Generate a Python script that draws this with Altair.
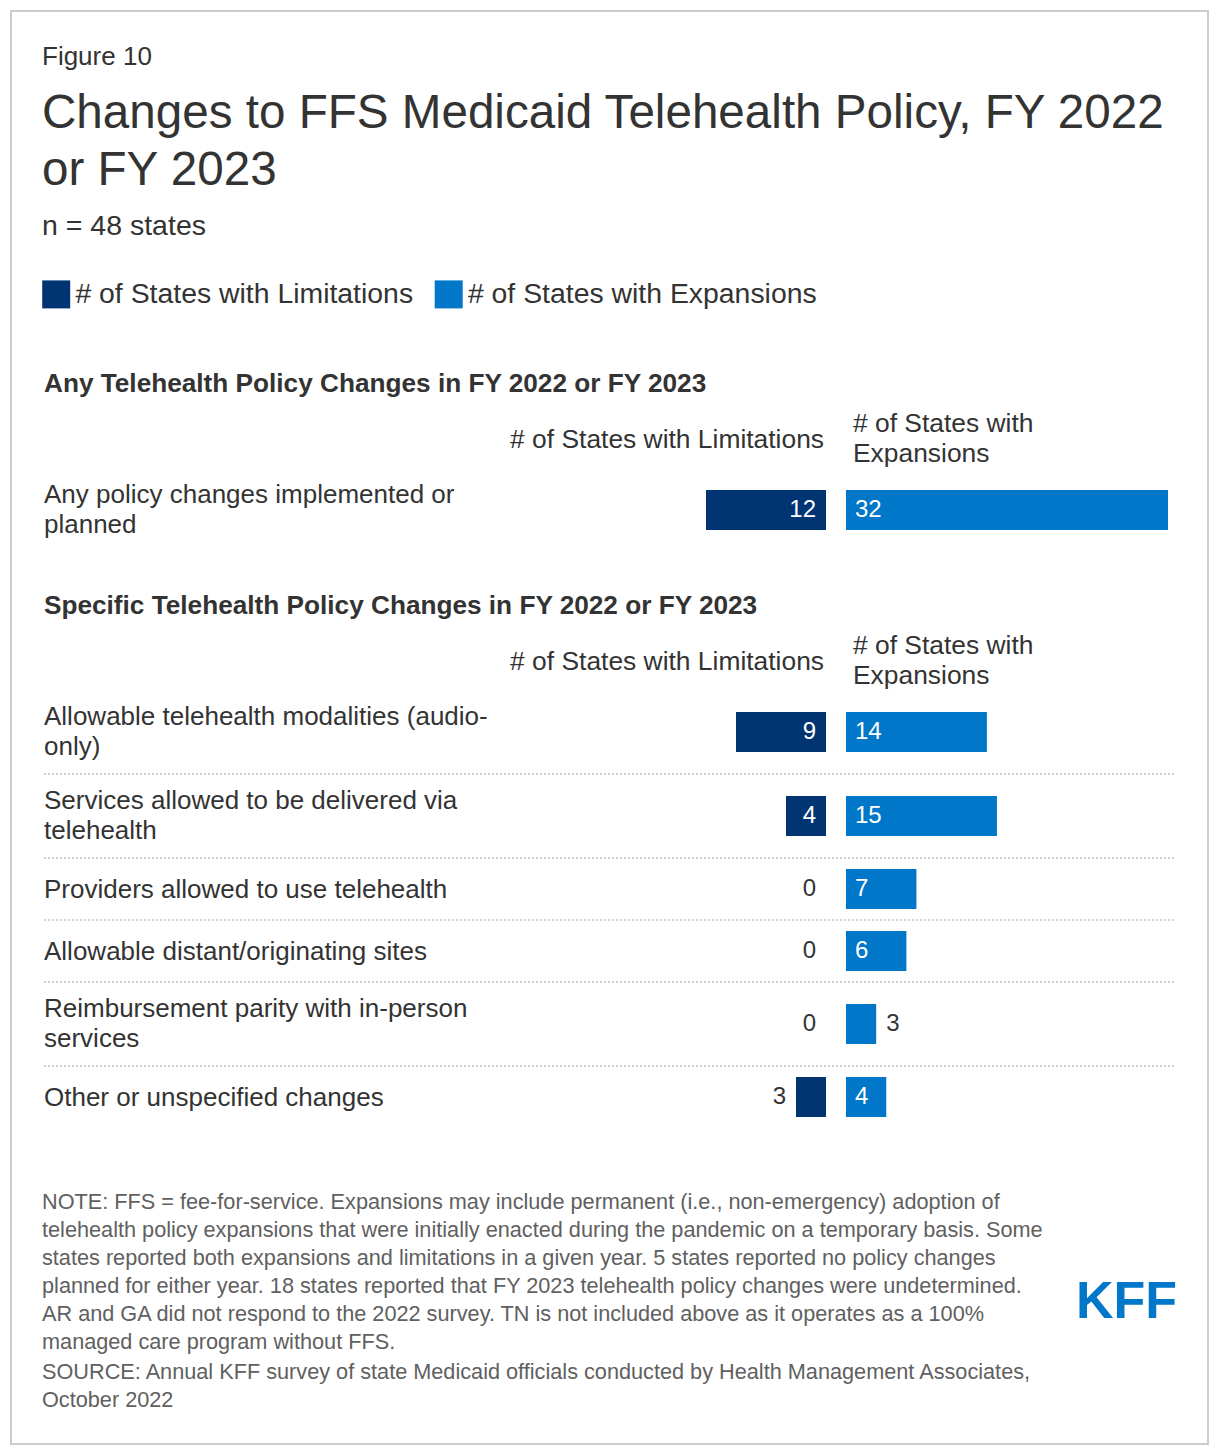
import altair as alt
import pandas as pd

# ---------------- data ----------------
TOP_CATEGORIES = ["Any policy changes implemented or\nplanned"]
TOP_LIMITATIONS = [12]
TOP_EXPANSIONS = [32]

CATEGORIES = [
    "Allowable telehealth modalities (audio-\nonly)",
    "Services allowed to be delivered via\ntelehealth",
    "Providers allowed to use telehealth",
    "Allowable distant/originating sites",
    "Reimbursement parity with in-person\nservices",
    "Other or unspecified changes",
]
LIMITATIONS = [9, 4, 0, 0, 0, 3]
EXPANSIONS = [14, 15, 7, 6, 3, 4]

SERIES = ["# of States with Limitations", "# of States with Expansions"]
COLORS = ["#003473", "#0077c8"]

NOTE_LINES = [
    "NOTE: FFS = fee-for-service. Expansions may include permanent (i.e., non-emergency) adoption of",
    "telehealth policy expansions that were initially enacted during the pandemic on a temporary basis. Some",
    "states reported both expansions and limitations in a given year. 5 states reported no policy changes",
    "planned for either year. 18 states reported that FY 2023 telehealth policy changes were undetermined.",
    "AR and GA did not respond to the 2022 survey. TN is not included above as it operates as a 100%",
    "managed care program without FFS.",
]
SOURCE_LINES = [
    "SOURCE: Annual KFF survey of state Medicaid officials conducted by Health Management Associates,",
    "October 2022",
]

FONT = "Liberation Sans, Arial, sans-serif"
TXT = "#333333"
NOTE_C = "#606060"
MIN_INSIDE = 4  # values below this get their label outside the bar
LABEL_SIZE = 26
LINE_H = 30

# ---------------- layout ----------------
OFF = 11  # page offset of the view origin (8px margin + 3px padding)


def px(v):
    return v - OFF


ROW_H = {1: 62, 2: 84}
dom = [0]
rng = [px(510)]
top = 690.0
for i, lab in enumerate(CATEGORIES, start=1):
    h = ROW_H[lab.count("\n") + 1]
    if i > 1:
        dom.append(i - 0.5)
        rng.append(px(top))
    dom.append(i)
    rng.append(px(top + h / 2))
    top += h

labels_all = TOP_CATEGORIES + CATEGORIES
lim_all = TOP_LIMITATIONS + LIMITATIONS
exp_all = TOP_EXPANSIONS + EXPANSIONS

rows = []
for i, lab in enumerate(labels_all):
    rows.append({"pos": i, "label": lab, "series": SERIES[0], "value": lim_all[i]})
    rows.append({"pos": i, "label": lab, "series": SERIES[1], "value": exp_all[i]})
df = pd.DataFrame(rows)
cat_df = pd.DataFrame({
    "pos": list(range(len(labels_all))),
    "label": labels_all,
    "lines": [lab.count("\n") + 1 for lab in labels_all],
})
sep_df = pd.DataFrame({"pos": [i + 0.5 for i in range(1, len(CATEGORIES))]})

yscale = alt.Scale(domain=dom, range=rng, zero=False, nice=False, padding=0)
lim_x = alt.Scale(domain=[0, 12], range=[px(826), px(706)], zero=False, nice=False, padding=0)
exp_x = alt.Scale(domain=[0, 32], range=[px(846), px(1168)], zero=False, nice=False, padding=0)


def yenc():
    return alt.Y("pos:Q", scale=yscale, axis=None)


color = alt.Color(
    "series:N",
    scale=alt.Scale(domain=SERIES, range=COLORS),
    legend=alt.Legend(
        title=None, orient="none", legendX=px(42), legendY=px(280),
        direction="horizontal", symbolType="square", symbolSize=784,
        symbolStrokeWidth=0, labelFontSize=28.4, labelFont=FONT, labelColor=TXT,
        labelOffset=5, columnPadding=20.5, labelLimit=600, padding=0, rowPadding=0,
        symbolOffset=0,
    ),
)

base = alt.Chart(df)


def bars(series, scale):
    return (
        base.transform_filter(alt.datum.series == series)
        .transform_calculate(zero="0")
        .mark_bar(size=40, orient="horizontal")
        .encode(
            x=alt.X("value:Q", scale=scale, axis=None),
            x2="zero:Q",
            y=yenc(),
            color=color,
        )
    )


def value_labels(series, scale, inside, align, dx, col):
    cond = (alt.datum.value >= MIN_INSIDE) if inside else (alt.datum.value < MIN_INSIDE)
    xfield = "zero:Q" if inside else "value:Q"
    return (
        base.transform_filter(alt.datum.series == series)
        .transform_filter(cond)
        .transform_calculate(zero="0")
        .mark_text(align=align, baseline="middle", dx=dx, fontSize=24, color=col, font=FONT)
        .encode(
            x=alt.X(xfield, scale=scale, axis=None),
            y=yenc(),
            text=alt.Text("value:Q", format="d"),
        )
    )


def cat_labels(n_lines):
    return (
        alt.Chart(cat_df)
        .transform_filter(alt.datum.lines == n_lines)
        .mark_text(
            align="left", baseline="middle", fontSize=LABEL_SIZE, lineBreak="\n",
            lineHeight=LINE_H, color=TXT, font=FONT, dy=1 - LINE_H * (n_lines - 1) / 2 - (1 if n_lines > 1 else 0),
        )
        .encode(x=alt.value(px(44)), y=yenc(), text="label:N")
    )


def annot(text, x, y, align="left", size=26, col=TXT, weight="normal", lh=None, font=FONT):
    kw = dict(align=align, baseline="alphabetic", fontSize=size, color=col,
              fontWeight=weight, font=font, lineBreak="\n")
    if lh:
        kw["lineHeight"] = lh
    return (
        alt.Chart(pd.DataFrame({"t": [text]}))
        .mark_text(**kw)
        .encode(text="t:N", x=alt.value(px(x)), y=alt.value(px(y)))
    )


seps = alt.Chart(sep_df).mark_rule(color="#d0d0d0", strokeWidth=2, strokeDash=[2, 2]).encode(
    y=yenc(), x=alt.value(px(44)), x2=alt.value(px(1176))
)

layers = [
    seps,
    bars(SERIES[0], lim_x),
    bars(SERIES[1], exp_x),
    value_labels(SERIES[0], lim_x, True, "right", -10, "white"),
    value_labels(SERIES[0], lim_x, False, "right", -10, TXT),
    value_labels(SERIES[1], exp_x, True, "left", 9, "white"),
    value_labels(SERIES[1], exp_x, False, "left", 10, TXT),
    cat_labels(1),
    cat_labels(2),
    annot("Figure 10", 42, 65, size=26),
    annot("Changes to FFS Medicaid Telehealth Policy, FY 2022\nor FY 2023", 42, 128, size=47.6, lh=57),
    annot("n = 48 states", 42, 235, size=28.5),
    annot("Any Telehealth Policy Changes in FY 2022 or FY 2023", 44, 392, size=26.2, weight="bold"),
    annot("Specific Telehealth Policy Changes in FY 2022 or FY 2023", 44, 614, size=26.2, weight="bold"),
    annot("# of States with Limitations", 824, 448, align="right", size=26.4),
    annot("# of States with\nExpansions", 853, 432, size=26.4, lh=30),
    annot("# of States with Limitations", 824, 670, align="right", size=26.4),
    annot("# of States with\nExpansions", 853, 654, size=26.4, lh=30),
    annot("\n".join(NOTE_LINES), 42, 1209, size=21.7, col=NOTE_C, lh=28),
    annot("\n".join(SOURCE_LINES), 42, 1379, size=21.7, col=NOTE_C, lh=28),
    annot("KFF", 1177, 1318, align="right", size=52, col="#0077c8", weight="bold",
          font="Liberation Sans Narrow, Arial Narrow, Liberation Sans, sans-serif"),
]

chart = (
    alt.layer(*layers)
    .resolve_scale(x="independent", y="independent")
    .properties(
        width=1197,
        height=1433,
        padding={"left": 3, "top": 3, "right": 3, "bottom": 3},
        autosize=alt.AutoSizeParams(type="none"),
        background="white",
    )
    .configure_view(stroke="#cccccc", strokeWidth=2)
)

chart.save("out.html", embed_options={"renderer": "svg", "actions": False})
